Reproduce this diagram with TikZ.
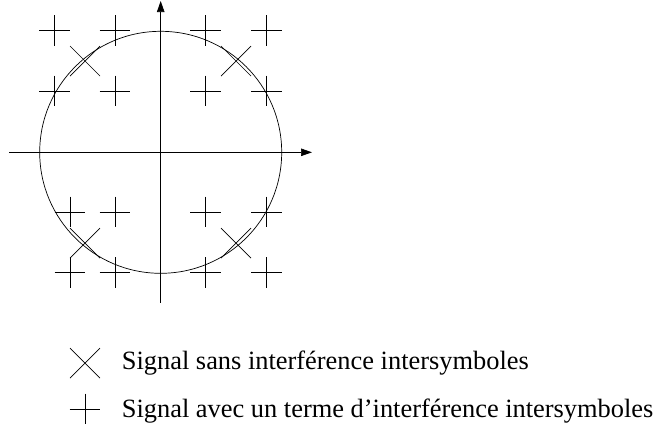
\documentclass[tikz,border=0pt]{standalone}
\usepackage{fontspec}
\setmainfont{Liberation Serif}
\usetikzlibrary{arrows.meta}
\tikzset{
  thinline/.style={line width=0.7bp, black},
  axisline/.style={line width=0.7bp, black, -{Triangle[length=11bp,width=7.5bp]}},
  plusmark/.pic={\draw[thinline] (-15.3,0) -- (15.3,0) (0,-15.3) -- (0,15.3);},
  crossmark/.pic={\draw[thinline] (-15,-15) -- (15,15) (-15,15) -- (15,-15);},
  legendtext/.style={anchor=base west, inner sep=0pt, font=\fontsize{26.5}{30}\selectfont}
}
\begin{document}
\begin{tikzpicture}[x=1bp,y=-1bp]
\useasboundingbox (0,0) rectangle (655,427);
\coordinate (O) at (160.7,152.3);
\coordinate (xl) at (9.3,152.3);
\coordinate (xr) at (312,152.3);
\coordinate (yb) at (160.7,302.7);
\coordinate (yt) at (160.7,1);
\draw[axisline] (xl) -- (xr);
\draw[axisline] (yb) -- (yt);
\draw[thinline] (O) circle[radius=121bp];
% plus marks
\foreach \y in {30.7,91}{
  \foreach \x in {54.7,115,205.7,266.3}{
    \pic at (\x,\y) {plusmark};
  }
}
\foreach \y in {212,272.7}{
  \foreach \x in {70,115,205.7,266.3}{
    \pic at (\x,\y) {plusmark};
  }
}
% cross marks
\foreach \x/\y in {85/61,236/61,85/243,236/243}{
  \pic at (\x,\y) {crossmark};
}
% legend
\pic at (85,363) {crossmark};
\pic at (85,409) {plusmark};
\node[legendtext] (t1) at (121.7,369.3) {Signal sans interférence intersymboles};
\node[legendtext] (t2) at (121.7,417.5) {Signal avec un terme d’interférence intersymboles};
\end{tikzpicture}
\end{document}
